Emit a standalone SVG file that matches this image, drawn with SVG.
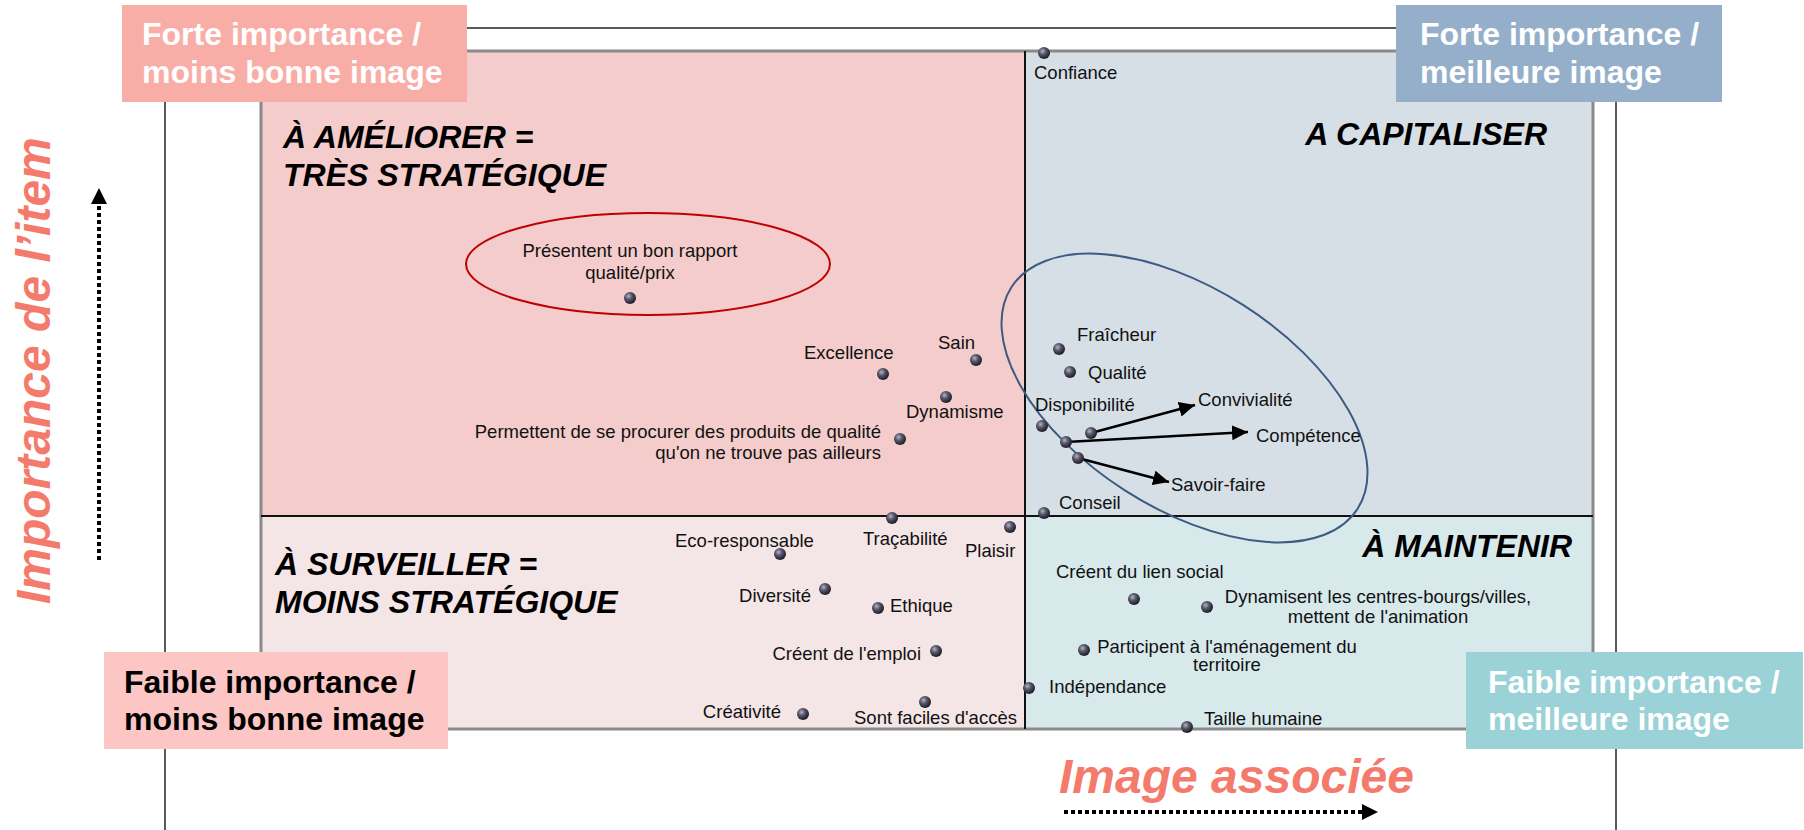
<svg xmlns="http://www.w3.org/2000/svg" width="1804" height="830" viewBox="0 0 1804 830">
<defs>
<radialGradient id="ball" cx="0.38" cy="0.35" r="0.65">
<stop offset="0" stop-color="#b4b4c0"/>
<stop offset="0.45" stop-color="#55556a"/>
<stop offset="1" stop-color="#1c1c26"/>
</radialGradient>
<marker id="ah" markerUnits="userSpaceOnUse" markerWidth="17" markerHeight="16" refX="16" refY="7.5" orient="auto">
<path d="M0,0 L16,7.5 L0,15 z" fill="#000"/>
</marker>
</defs>
<style>
.lbl{font-family:"Liberation Sans",Arial,sans-serif;font-size:18.5px;fill:#111}
.big{font-family:"Liberation Sans",Arial,sans-serif;font-size:32px;font-weight:bold}
.quad{font-family:"Liberation Sans",Arial,sans-serif;font-size:32px;font-weight:bold;font-style:italic;fill:#000}
.axis{font-family:"Liberation Sans",Arial,sans-serif;font-size:48px;font-weight:bold;font-style:italic;fill:#F47A6C}
.dot{fill:url(#ball)}
.mid{text-anchor:middle}
.end{text-anchor:end}
.dotted{stroke:#000;stroke-width:4;stroke-dasharray:4 3;fill:none}
</style>
<rect width="1804" height="830" fill="#fff"/>
<g id="frame">
<rect x="165" y="28" width="1451" height="900" fill="none" stroke="#5a5a5a" stroke-width="2"/>
<rect x="261" y="51" width="764" height="465" fill="#F4CCCB"/>
<rect x="1025" y="51" width="568" height="465" fill="#D6DFE6"/>
<rect x="261" y="516" width="764" height="213" fill="#F4E5E6"/>
<rect x="1025" y="516" width="568" height="213" fill="#D7E9EB"/>
<rect x="261" y="51" width="1332" height="678" fill="none" stroke="#8a8a8a" stroke-width="3"/>
<line x1="1025" y1="51" x2="1025" y2="729" stroke="#111" stroke-width="2"/>
<line x1="261" y1="516" x2="1593" y2="516" stroke="#111" stroke-width="2"/>
</g>
<g id="quadrant-titles">
<text class="quad" x="283" y="148">À AMÉLIORER =</text>
<text class="quad" x="283" y="186">TRÈS STRATÉGIQUE</text>
<text class="quad end" x="1547" y="145">A CAPITALISER</text>
<text class="quad" x="275" y="575">À SURVEILLER =</text>
<text class="quad" x="275" y="613">MOINS STRATÉGIQUE</text>
<text class="quad end" x="1572" y="557">À MAINTENIR</text>
</g>
<g id="groupings">
<ellipse cx="648" cy="264" rx="182" ry="51" fill="none" stroke="#C00000" stroke-width="2"/>
<ellipse cx="1184.5" cy="398" rx="205.5" ry="110" transform="rotate(32.6 1184.5 398)" fill="none" stroke="#3D5B80" stroke-width="2"/>
</g>
<g id="connectors">
<line x1="1091" y1="433" x2="1195" y2="405" stroke="#000" stroke-width="2.5" marker-end="url(#ah)"/>
<line x1="1066" y1="442" x2="1248" y2="432" stroke="#000" stroke-width="2.5" marker-end="url(#ah)"/>
<line x1="1078" y1="458" x2="1169" y2="482" stroke="#000" stroke-width="2.5" marker-end="url(#ah)"/>
<line class="dotted" x1="99" y1="560" x2="99" y2="204"/>
<path d="M99,188 L107,204 L91,204 z" fill="#000"/>
<line class="dotted" x1="1064" y1="812" x2="1362" y2="812"/>
<path d="M1378,812 L1362,804 L1362,820 z" fill="#000"/>
</g>
<g id="n-rapport"><circle class="dot" cx="630" cy="298" r="6"/><text class="lbl mid" x="630" y="257">Présentent un bon rapport</text><text class="lbl mid" x="630" y="279">qualité/prix</text></g>
<g id="n-sain"><circle class="dot" cx="976" cy="360" r="6"/><text class="lbl" x="938" y="349">Sain</text></g>
<g id="n-excellence"><circle class="dot" cx="883" cy="374" r="6"/><text class="lbl" x="804" y="359">Excellence</text></g>
<g id="n-dynamisme"><circle class="dot" cx="946" cy="397" r="6"/><text class="lbl" x="906" y="418">Dynamisme</text></g>
<g id="n-permettent"><circle class="dot" cx="900" cy="439" r="6"/><text class="lbl end" x="881" y="438">Permettent de se procurer des produits de qualité</text><text class="lbl end" x="881" y="459">qu'on ne trouve pas ailleurs</text></g>
<g id="n-confiance"><circle class="dot" cx="1044" cy="53" r="6"/><text class="lbl" x="1034" y="79">Confiance</text></g>
<g id="n-fraicheur"><circle class="dot" cx="1059" cy="349" r="6"/><text class="lbl" x="1077" y="341">Fraîcheur</text></g>
<g id="n-qualite"><circle class="dot" cx="1070" cy="372" r="6"/><text class="lbl" x="1088" y="379">Qualité</text></g>
<g id="n-disponibilite"><circle class="dot" cx="1042" cy="426" r="6"/><text class="lbl" x="1035" y="411">Disponibilité</text></g>
<g id="n-convivialite"><circle class="dot" cx="1091" cy="433" r="6"/><text class="lbl" x="1198" y="406">Convivialité</text></g>
<g id="n-competence"><circle class="dot" cx="1066" cy="442" r="6"/><text class="lbl" x="1256" y="442">Compétence</text></g>
<g id="n-savoirfaire"><circle class="dot" cx="1078" cy="458" r="6"/><text class="lbl" x="1171" y="491">Savoir-faire</text></g>
<g id="n-conseil"><circle class="dot" cx="1044" cy="513" r="6"/><text class="lbl" x="1059" y="509">Conseil</text></g>
<g id="n-tracabilite"><circle class="dot" cx="892" cy="518" r="6"/><text class="lbl" x="863" y="545">Traçabilité</text></g>
<g id="n-plaisir"><circle class="dot" cx="1010" cy="527" r="6"/><text class="lbl" x="965" y="557">Plaisir</text></g>
<g id="n-eco"><circle class="dot" cx="780" cy="554" r="6"/><text class="lbl" x="675" y="547">Eco-responsable</text></g>
<g id="n-diversite"><circle class="dot" cx="825" cy="589" r="6"/><text class="lbl end" x="811" y="602">Diversité</text></g>
<g id="n-ethique"><circle class="dot" cx="878" cy="608" r="6"/><text class="lbl" x="890" y="612">Ethique</text></g>
<g id="n-emploi"><circle class="dot" cx="936" cy="651" r="6"/><text class="lbl end" x="921" y="660">Créent de l'emploi</text></g>
<g id="n-creativite"><circle class="dot" cx="803" cy="714" r="6"/><text class="lbl end" x="781" y="718">Créativité</text></g>
<g id="n-acces"><circle class="dot" cx="925" cy="702" r="6"/><text class="lbl" x="854" y="724">Sont faciles d'accès</text></g>
<g id="n-lien"><circle class="dot" cx="1134" cy="599" r="6"/><text class="lbl" x="1056" y="578">Créent du lien social</text></g>
<g id="n-dynamisent"><circle class="dot" cx="1207" cy="607" r="6"/><text class="lbl mid" x="1378" y="603">Dynamisent les centres-bourgs/villes,</text><text class="lbl mid" x="1378" y="623">mettent de l'animation</text></g>
<g id="n-participent"><circle class="dot" cx="1084" cy="650" r="6"/><text class="lbl mid" x="1227" y="653">Participent à l'aménagement du</text><text class="lbl mid" x="1227" y="671">territoire</text></g>
<g id="n-independance"><circle class="dot" cx="1029" cy="688" r="6"/><text class="lbl" x="1049" y="693">Indépendance</text></g>
<g id="n-taille"><circle class="dot" cx="1187" cy="727" r="6"/><text class="lbl" x="1204" y="725">Taille humaine</text></g>
<g id="axis-labels">
<text class="axis" transform="translate(50,604) rotate(-90)">Importance de l’item</text>
<text class="axis" x="1059" y="793">Image associée</text>
</g>
<g id="box-tl"><rect x="122" y="5" width="345" height="97" fill="#F9ADA7"/><text class="big" fill="#fff" x="142" y="45">Forte importance /</text><text class="big" fill="#fff" x="142" y="83">moins bonne image</text></g>
<g id="box-tr"><rect x="1396" y="5" width="326" height="97" fill="#95AFCA"/><text class="big" fill="#fff" x="1420" y="45">Forte importance /</text><text class="big" fill="#fff" x="1420" y="83">meilleure image</text></g>
<g id="box-bl"><rect x="104" y="652" width="344" height="97" fill="#FBC6C3"/><text class="big" fill="#000" x="124" y="693">Faible importance /</text><text class="big" fill="#000" x="124" y="730">moins bonne image</text></g>
<g id="box-br"><rect x="1466" y="652" width="337" height="97" fill="#9AD2D7"/><text class="big" fill="#fff" x="1488" y="693">Faible importance /</text><text class="big" fill="#fff" x="1488" y="730">meilleure image</text></g>
</svg>
